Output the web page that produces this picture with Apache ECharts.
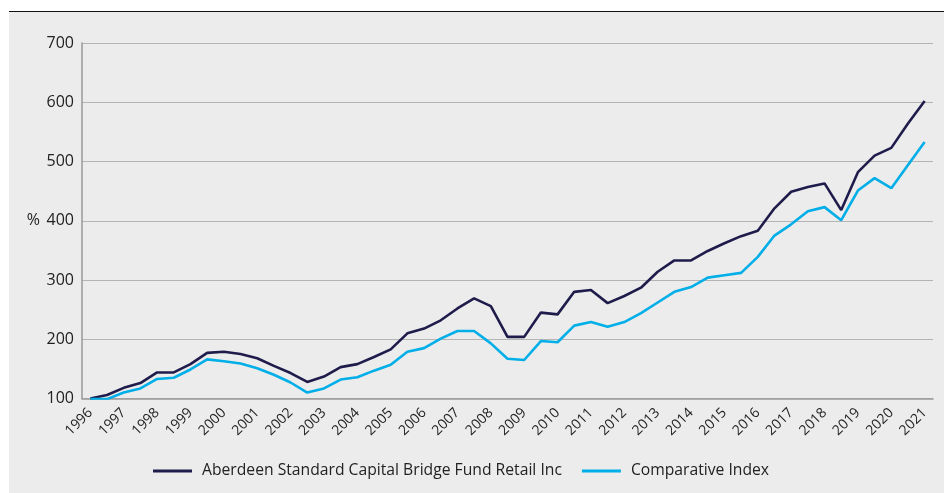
<!DOCTYPE html>
<html>
<head>
<meta charset="utf-8">
<script src="https://cdn.jsdelivr.net/npm/echarts@6/dist/echarts.min.js"></script>
<style>
  html, body { margin: 0; padding: 0; background: #fff; }
  #chart { width: 944px; height: 493px; }
</style>
</head>
<body>
<div id="chart"></div>
<script>
// half-yearly points, a year label on every second one
const categories = [
  '1996', '', '1997', '', '1998', '', '1999', '', '2000', '', '2001', '', '2002', '',
  '2003', '', '2004', '', '2005', '', '2006', '', '2007', '', '2008', '', '2009', '',
  '2010', '', '2011', '', '2012', '', '2013', '', '2014', '', '2015', '', '2016', '',
  '2017', '', '2018', '', '2019', '', '2020', '', '2021'
];
const fundName = 'Aberdeen Standard Capital Bridge Fund Retail Inc';
const indexName = 'Comparative Index';
const fundValues = [
  100, 106, 118, 126, 144, 144, 158, 177, 179, 175, 168, 155, 143, 128, 137, 153, 158,
  170, 183, 210, 218, 232, 252, 269, 256, 204, 204, 245, 242, 280, 283, 261, 273, 287,
  314, 333, 333, 349, 362, 374, 383, 421, 449, 457, 463, 418, 482, 510, 523, 564, 602
];
const indexValues = [
  99, 99, 110, 117, 133, 135, 149, 166, 163, 159, 151, 140, 127, 110, 117, 132, 136,
  147, 157, 179, 185, 201, 214, 214, 193, 167, 165, 197, 195, 223, 229, 221, 229, 244,
  262, 280, 288, 304, 308, 312, 339, 375, 394, 416, 423, 401, 451, 472, 455, 494, 533
];
const yTicks = [100, 200, 300, 400, 500, 600, 700];

const font = '"Open Sans", "Noto Sans", sans-serif';
const navy = '#1f1c4c';
const cyan = '#00aee8';

var myChart = echarts.init(document.getElementById('chart'));
myChart.setOption({
  animation: false,
  textStyle: { fontFamily: font },
  graphic: [
    { type: 'rect', z: -10, shape: { x: 9, y: 12, width: 935, height: 481 }, style: { fill: '#ececec' } },
    { type: 'line', shape: { x1: 9, y1: 11.5, x2: 944, y2: 11.5 }, style: { stroke: '#111', lineWidth: 1.2 } }
  ],
  grid: { left: 82, right: 11, top: 43, bottom: 94.5 },
  legend: {
    left: 148,
    top: 458,
    icon: 'rect',
    itemWidth: 39,
    itemHeight: 3,
    itemGap: 20,
    textStyle: { fontFamily: font, fontSize: 15.7, color: '#222', padding: [0, 0, 0, 5] },
    data: [fundName, indexName]
  },
  xAxis: {
    type: 'category',
    data: categories,
    boundaryGap: true,
    axisLine: { lineStyle: { color: '#999', width: 1.5 } },
    axisTick: { show: false },
    axisLabel: {
      interval: 0,
      rotate: 45,
      margin: 12,
      fontSize: 14,
      color: '#222',
      fontFamily: font
    }
  },
  yAxis: {
    type: 'value',
    min: yTicks[0],
    max: yTicks[yTicks.length - 1],
    interval: 100,
    name: '%',
    nameLocation: 'middle',
    nameRotate: 0,
    nameGap: 42,
    nameTextStyle: { fontSize: 16, color: '#222', fontFamily: font },
    axisLine: { show: true, lineStyle: { color: '#999', width: 1.5 } },
    axisTick: { show: false },
    axisLabel: { fontSize: 16, color: '#222', margin: 8, fontFamily: font },
    splitLine: { lineStyle: { color: '#b4b4b4', width: 1.2 } }
  },
  series: [
    {
      name: fundName,
      type: 'line',
      data: fundValues,
      symbol: 'none',
      lineStyle: { color: navy, width: 2.6 },
      itemStyle: { color: navy }
    },
    {
      name: indexName,
      type: 'line',
      data: indexValues,
      symbol: 'none',
      lineStyle: { color: cyan, width: 2.6 },
      itemStyle: { color: cyan }
    }
  ]
});
</script>
</body>
</html>
